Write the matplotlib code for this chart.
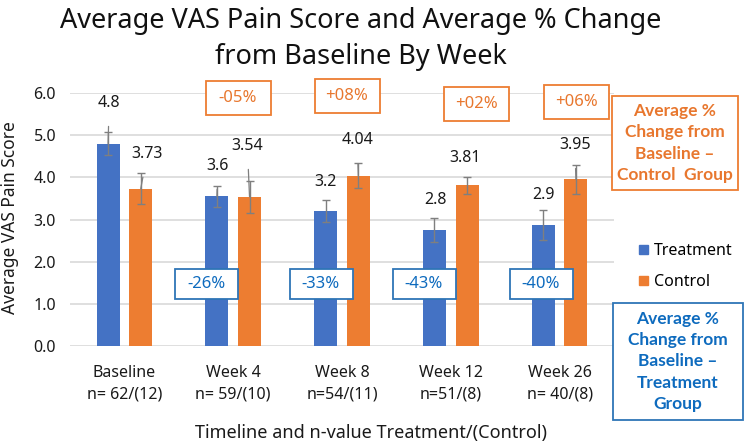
import numpy as np
import matplotlib
matplotlib.use("Agg")
import matplotlib.pyplot as plt
from matplotlib.patches import Rectangle, Patch
from matplotlib.transforms import Affine2D

plt.rcParams['font.family'] = ['Noto Sans', 'DejaVu Sans']

# data
categories = ["Baseline\nn= 62/(12)", "Week 4\nn= 59/(10)", "Week 8\nn=54/(11)",
              "Week 12\nn=51/(8)", "Week 26\nn= 40/(8)"]
treatment = [4.80, 3.55, 3.20, 2.75, 2.87]
treatment_err = [0.27, 0.25, 0.27, 0.28, 0.36]
treatment_labels = ["4.8", "3.6", "3.2", "2.8", "2.9"]
control = [3.73, 3.54, 4.04, 3.81, 3.95]
control_err = [0.37, 0.38, 0.30, 0.20, 0.35]
control_labels = ["3.73", "3.54", "4.04", "3.81", "3.95"]
pct_treatment = ["-26%", "-33%", "-43%", "-40%"]
pct_control = ["-05%", "+08%", "+02%", "+06%"]

BLUE = "#4472C4"
ORANGE = "#ED7D31"
TXT_BLUE = "#0E6BBE"
TXT_ORANGE = "#E8772E"
GRAY = "#7F7F7F"

W, H = 744, 448
fig = plt.figure(figsize=(W / 100, H / 100), dpi=100)
px = Affine2D().scale(1 / W, -1 / H).translate(0, 1) + fig.transFigure

ax = fig.add_axes([70 / W, 1 - 346 / H, 544 / W, 253 / H])
x = np.arange(len(categories))
bw, off = 0.21, 0.15
ekw = dict(ecolor=GRAY, elinewidth=1, capsize=3, capthick=1, zorder=4)

# leader lines from data point to label (where the label was moved)
lead_t = [True, True, False, False, False]
lead_c = [True, True, True, False, True]
lab_t = [(-0.14, 5.76), (0.86, 4.27), (1.85, 3.89), (2.86, 3.46), (3.85, 3.58)]
lab_c = [(0.21, 4.55), (1.13, 4.74), (2.14, 4.88), (3.13, 4.45), (4.14, 4.76)]

ax.bar(x - off, treatment, bw, color=BLUE, yerr=treatment_err, error_kw=ekw,
       zorder=3, label="Treatment")
ax.bar(x + off, control, bw, color=ORANGE, yerr=control_err, error_kw=ekw,
       zorder=3, label="Control")

for i in range(len(x)):
    for xs, v, lab, pos, lead in ((x[i] - off, treatment[i], treatment_labels[i], lab_t[i], lead_t[i]),
                                  (x[i] + off, control[i], control_labels[i], lab_c[i], lead_c[i])):
        ap = dict(arrowstyle='-', color=GRAY, lw=0.9, shrinkA=9, shrinkB=0) if lead else None
        ax.annotate(lab, xy=(xs, v), xytext=pos, ha='center', va='center',
                    fontsize=11.5, color='#1a1a1a', arrowprops=ap, zorder=5,
                    annotation_clip=False)

ax.set_xlim(-0.5, 4.5)
ax.set_ylim(0, 6)
ax.set_yticks(np.arange(0, 7, 1))
ax.set_yticklabels([f"{t:.1f}" for t in np.arange(0, 7, 1)])
ax.set_xticks(x)
ax.set_xticklabels(categories, linespacing=1.4)
ax.tick_params(length=0, labelsize=11.5, colors='#1a1a1a')
ax.tick_params(axis='x', pad=14)
ax.tick_params(axis='y', pad=10)
ax.yaxis.grid(True, color='#D9D9D9', lw=1.2)
ax.set_axisbelow(True)
for s in ax.spines.values():
    s.set_visible(False)

ax.set_ylabel("Average VAS Pain Score", fontsize=12.5, color='#1a1a1a')
ax.yaxis.set_label_coords(-0.094, 0.506)
ax.set_xlabel("Timeline and n-value Treatment/(Control)", fontsize=13, color='#1a1a1a')
ax.xaxis.set_label_coords(0.553, -0.31)

fig.text(361 / W, 1 - 39 / H, "Average VAS Pain Score and Average % Change\nfrom Baseline By Week",
         ha='center', va='center', fontsize=19.5, linespacing=1.35, color='#111111')


def box(cx, cy, bw_, bh_, text, edge, tcol, fs, weight='normal', ls=1.2, family=None):
    fig.add_artist(Rectangle((cx - bw_ / 2, cy - bh_ / 2), bw_, bh_, transform=px,
                             facecolor='white', edgecolor=edge, lw=1.3, zorder=6))
    fig.text(cx, cy, text, transform=px, ha='center', va='center', fontsize=fs,
             color=tcol, fontweight=weight, linespacing=ls, zorder=7, family=family)


for (cx, cy), t in zip([(238, 98), (347, 96), (476, 104), (576, 102)], pct_control):
    box(cx, cy, 65, 34, t, ORANGE, TXT_ORANGE, 12)
for (cx, cy), t in zip([(206, 284), (321, 284), (424, 284), (541, 284)], pct_treatment):
    box(cx, cy, 63, 30, t, "#2E75B6", TXT_BLUE, 12)

box(675, 143, 126, 94, "Average %\nChange from\nBaseline \u2013\nControl  Group",
    ORANGE, TXT_ORANGE, 12.5, 'bold', 1.42, ['Lato', 'DejaVu Sans'])
box(678, 361.5, 130, 117, "Average %\nChange from\nBaseline \u2013\nTreatment\nGroup",
    "#2E75B6", TXT_BLUE, 12.5, 'bold', 1.42, ['Lato', 'DejaVu Sans'])

ax.legend(handles=[Patch(color=BLUE, label="Treatment"), Patch(color=ORANGE, label="Control")],
          loc='upper left', bbox_to_anchor=(639 / W, 1 - 243 / H), bbox_transform=fig.transFigure,
          frameon=False, fontsize=11.5, handlelength=0.55, handleheight=0.55,
          handletextpad=0.4, labelspacing=0.95, borderpad=0, borderaxespad=0)

fig.savefig("out.png", dpi=100)
